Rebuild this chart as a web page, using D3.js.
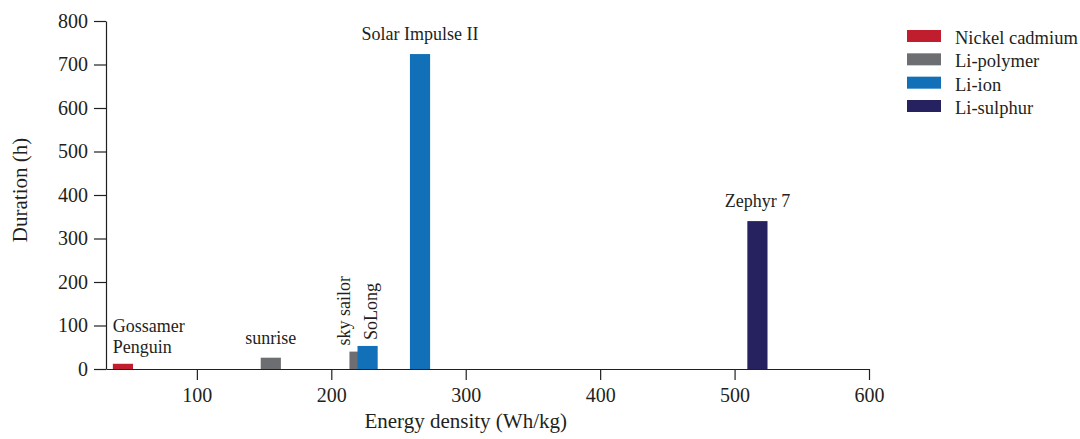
<!DOCTYPE html>
<html>
<head>
<meta charset="utf-8">
<script src="https://cdn.jsdelivr.net/npm/d3@7"></script>
<style>
  body { margin: 0; background: #fff; }
  text { font-family: "Liberation Serif", "Times New Roman", serif; fill: #231f20; }
</style>
</head>
<body>
<div id="chart"></div>
<script>
// data
const aircraft = ["Gossamer Penguin", "sunrise", "sky sailor", "SoLong", "Solar Impulse II", "Zephyr 7"];
const energyDensity = [45, 155, 221, 227, 266, 517];   // Wh/kg
const duration = [12, 26, 40, 53, 724, 340];            // h
const battery = ["Nickel cadmium", "Li-polymer", "Li-polymer", "Li-ion", "Li-ion", "Li-sulphur"];
const batteryTypes = ["Nickel cadmium", "Li-polymer", "Li-ion", "Li-sulphur"];
const xTicks = [100, 200, 300, 400, 500, 600];
const yTicks = [0, 100, 200, 300, 400, 500, 600, 700, 800];

const width = 1080, height = 439;
const margin = {top: 21, right: 211, bottom: 70, left: 106};
const BAR_W = 15; // bar width in Wh/kg units
const ink = "#231f20";

const color = d3.scaleOrdinal()
  .domain(batteryTypes)
  .range(["#c01e2e", "#6d6e71", "#1170b8", "#26225f"]);

const x = d3.scaleLinear().domain([32.4, 600]).range([margin.left, width - margin.right]);
const y = d3.scaleLinear().domain([0, 800]).range([height - margin.bottom, margin.top]);

const data = aircraft.map((name, i) => ({
  name: name, e: energyDensity[i], h: duration[i], type: battery[i]
}));

const svg = d3.select("#chart").append("svg")
  .attr("width", width)
  .attr("height", height);

svg.append("rect").attr("width", width).attr("height", height).attr("fill", "#fff");

// axes
const xAxis = svg.append("g")
  .attr("transform", "translate(0," + y(0) + ")")
  .call(d3.axisBottom(x).tickValues(xTicks).tickSize(11).tickPadding(8).tickSizeOuter(0));

const yAxis = svg.append("g")
  .attr("transform", "translate(" + margin.left + ",0)")
  .call(d3.axisLeft(y).tickValues(yTicks).tickSize(12).tickPadding(6).tickSizeOuter(0));

[xAxis, yAxis].forEach(g => {
  g.selectAll("path, line").attr("stroke", ink).attr("stroke-width", 1.2);
  g.selectAll("text").style("font-size", "20px").attr("fill", ink)
    .style("font-family", "'Liberation Serif', serif");
});

// bars
svg.append("g")
  .selectAll("rect")
  .data(data)
  .enter()
  .append("rect")
  .attr("x", d => x(d.e - BAR_W / 2))
  .attr("y", d => y(d.h))
  .attr("width", d => x(d.e + BAR_W / 2) - x(d.e - BAR_W / 2))
  .attr("height", d => y(0) - y(d.h))
  .attr("fill", d => color(d.type));

// bar labels
const labels = svg.append("g").style("font-size", "18px");

data.forEach(d => {
  const left = x(d.e - BAR_W / 2), right = x(d.e + BAR_W / 2), top = y(d.h);
  if (d.name === "Gossamer Penguin") {
    const t = labels.append("text").attr("x", left).attr("y", top - 32);
    t.append("tspan").attr("x", left).text("Gossamer");
    t.append("tspan").attr("x", left).attr("dy", 21.5).text("Penguin");
  } else if (d.name === "sky sailor") {
    labels.append("text")
      .attr("transform", "translate(" + (left + 1) + "," + (top - 6) + ") rotate(-90)")
      .text(d.name);
  } else if (d.name === "SoLong") {
    labels.append("text")
      .attr("transform", "translate(" + (right - 1) + "," + (top - 6) + ") rotate(-90)")
      .text(d.name);
  } else {
    labels.append("text")
      .attr("x", (left + right) / 2)
      .attr("y", top - 14)
      .attr("text-anchor", "middle")
      .text(d.name);
  }
});

// axis titles
svg.append("text")
  .attr("x", x(300))
  .attr("y", 428)
  .attr("text-anchor", "middle")
  .style("font-size", "21px")
  .text("Energy density (Wh/kg)");

svg.append("text")
  .attr("transform", "translate(27," + 190 + ") rotate(-90)")
  .attr("text-anchor", "middle")
  .style("font-size", "21px")
  .text("Duration (h)");

// legend
const ly = d3.scalePoint().domain(batteryTypes).range([36, 106]);
const legend = svg.append("g")
  .selectAll("g")
  .data(batteryTypes)
  .enter()
  .append("g")
  .attr("transform", d => "translate(907," + ly(d) + ")");

legend.append("rect")
  .attr("x", 0).attr("y", -6)
  .attr("width", 34).attr("height", 12)
  .attr("fill", d => color(d));

legend.append("text")
  .attr("x", 48)
  .attr("y", 2)
  .attr("dy", "0.32em")
  .style("font-size", "18.5px")
  .text(d => d);
</script>
</body>
</html>
